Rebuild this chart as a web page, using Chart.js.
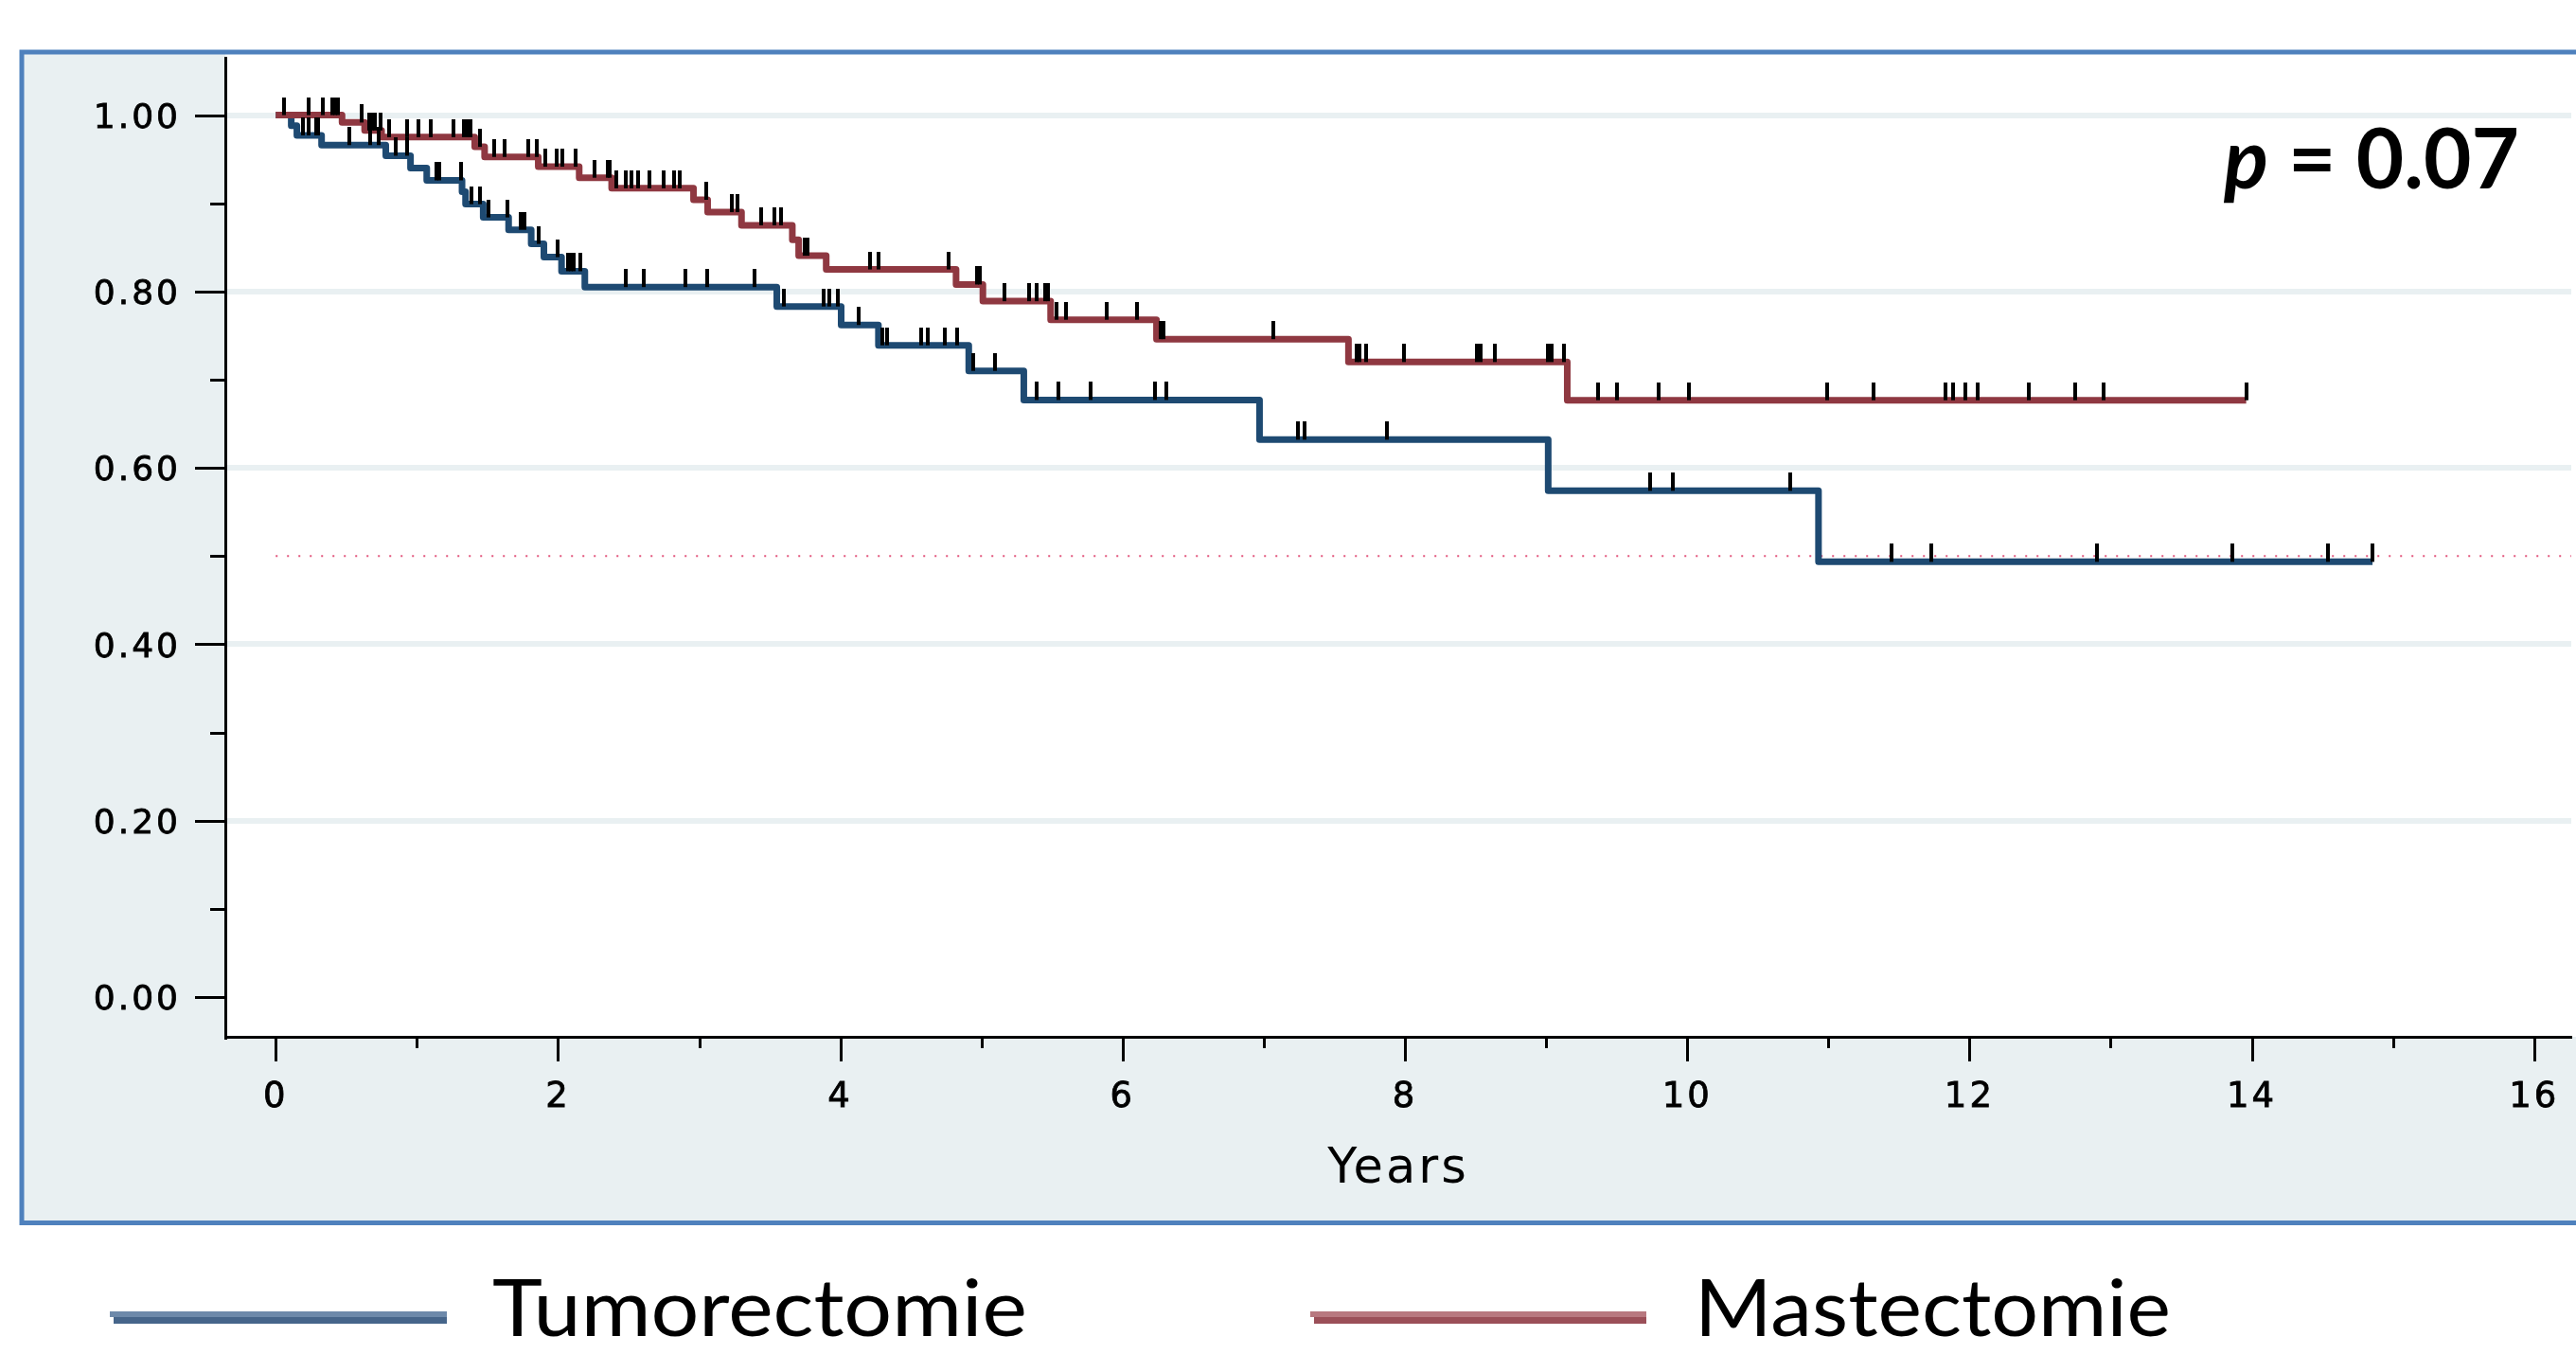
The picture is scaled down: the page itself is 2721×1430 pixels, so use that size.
<!DOCTYPE html>
<html><head><meta charset="utf-8">
<script src="https://cdn.jsdelivr.net/npm/chart.js@4.4.0/dist/chart.umd.min.js"></script>
<style>html,body{margin:0;padding:0;background:#fff;overflow:hidden}</style>
</head><body>
<canvas id="c" width="2721" height="1430"></canvas>
<script>
// ---------------- DATA ----------------
const seriesNames = ['Tumorectomie', 'Mastectomie'];

// Tumorectomie (blue): event times (years) and survival after each step
const tumTimes = [0, 0.11, 0.15, 0.325, 0.78, 0.955, 1.07, 1.32, 1.345, 1.47, 1.65, 1.81, 1.90, 2.025, 2.19, 3.55, 4.006, 4.27, 4.91, 5.30, 6.97, 9.015, 10.93, 14.855];
const tumSurv  = [1.0, 0.988, 0.977, 0.966, 0.954, 0.940, 0.926, 0.913, 0.899, 0.884, 0.870, 0.854, 0.839, 0.823, 0.805, 0.783, 0.762, 0.739, 0.710, 0.677, 0.632, 0.574, 0.4935, 0.4935];
const tumCensor = [0.19, 0.23, 0.285, 0.30, 0.52, 0.67, 0.73, 0.85, 0.93, 1.14, 1.16, 1.31, 1.39, 1.45, 1.51, 1.64, 1.735, 1.76, 1.86, 2.0, 2.07, 2.09, 2.11, 2.16, 2.48, 2.61, 2.90, 3.06, 3.39, 3.60, 3.88, 3.92, 3.98, 4.13, 4.30, 4.33, 4.57, 4.62, 4.74, 4.83, 4.94, 5.095, 5.39, 5.545, 5.77, 6.23, 6.31, 7.24, 7.29, 7.87, 9.735, 9.90, 10.73, 11.45, 11.73, 12.90, 13.86, 14.54, 14.855];

// Mastectomie (red)
const masTimes = [0, 0.47, 0.63, 0.75, 1.41, 1.48, 1.86, 2.15, 2.38, 2.96, 3.06, 3.30, 3.66, 3.705, 3.90, 4.82, 5.01, 5.49, 6.24, 7.60, 9.15, 13.96];
const masSurv  = [1.0, 0.9916, 0.9826, 0.975, 0.964, 0.9526, 0.9415, 0.929, 0.917, 0.904, 0.890, 0.875, 0.8585, 0.8406, 0.825, 0.808, 0.789, 0.768, 0.746, 0.720, 0.6767, 0.6767];
const masCensor = [0.057, 0.23, 0.336, 0.40, 0.42, 0.44, 0.61, 0.66, 0.68, 0.70, 0.74, 0.80, 0.93, 1.01, 1.10, 1.26, 1.33, 1.36, 1.38, 1.45, 1.545, 1.62, 1.79, 1.85, 1.91, 1.99, 2.03, 2.125, 2.26, 2.355, 2.365, 2.415, 2.48, 2.52, 2.57, 2.65, 2.745, 2.82, 2.86, 3.05, 3.23, 3.27, 3.44, 3.53, 3.58, 3.75, 3.765, 4.21, 4.27, 4.77, 4.97, 4.99, 5.16, 5.34, 5.39, 5.45, 5.47, 5.53, 5.60, 5.89, 6.10, 6.27, 6.29, 7.07, 7.66, 7.68, 7.725, 7.99, 8.51, 8.535, 8.64, 9.01, 9.04, 9.13, 9.365, 9.50, 9.80, 10.01, 10.99, 11.32, 11.83, 11.88, 11.97, 12.06, 12.42, 12.75, 12.95, 13.96];

const yTickValues = [0, 0.1, 0.2, 0.3, 0.4, 0.5, 0.6, 0.7, 0.8, 0.9, 1.0];
const yTickLabels = ['0.00', '', '0.20', '', '0.40', '', '0.60', '', '0.80', '', '1.00'];
const yGridValues = [0.2, 0.4, 0.6, 0.8, 1.0];
const xTickValues = [0, 1, 2, 3, 4, 5, 6, 7, 8, 9, 10, 11, 12, 13, 14, 15, 16];
const xTickLabels = ['0', '', '2', '', '4', '', '6', '', '8', '', '10', '', '12', '', '14', '', '16'];
const xTitle = 'Years';
const pLabel = 'p';
const pValueText = ' = 0.07';
const refLineValue = 0.5;

// ---------------- HELPERS ----------------
const colBlue = '#1e4a72';
const colRed = '#8f3841';
const AXFONT = '"DejaVu Sans", Verdana, sans-serif';
const LEGFONT = 'Lato, "Open Sans", sans-serif';

function toPoints(times, surv) { return times.map((t, i) => ({x: t, y: surv[i]})); }
function survAt(times, surv, t) {
  let s = surv[0];
  for (let i = 0; i < times.length; i++) if (times[i] <= t) s = surv[i];
  return s;
}
function censorPoints(times, surv, cens) { return cens.map(t => ({x: t, y: survAt(times, surv, t)})); }
function makeMark() {
  const c = document.createElement('canvas');
  c.width = 4; c.height = 38;
  const g = c.getContext('2d');
  g.fillStyle = '#000';
  g.fillRect(0, 0, 4, 19);
  return c;
}
const mark = makeMark();

const xMin = -0.357, xMax = 16.263;
const yMin = -0.0451, yMax = 1.065;

// ---------------- PLUGINS ----------------
const framePlugin = {
  id: 'frame',
  beforeDraw(chart) {
    const ctx = chart.ctx, a = chart.chartArea;
    ctx.save();
    ctx.fillStyle = '#ffffff';
    ctx.fillRect(0, 0, chart.width, chart.height);
    ctx.fillStyle = '#e9f0f2';
    ctx.fillRect(23, 55, chart.width + 20, 1291.5 - 55);
    ctx.fillStyle = '#ffffff';
    ctx.fillRect(a.left, 57, a.right - a.left + 10, a.bottom - 57);
    ctx.strokeStyle = '#4f81bd';
    ctx.lineWidth = 5;
    ctx.strokeRect(23, 55, chart.width + 20, 1291.5 - 55);
    ctx.restore();
    // the chart's axis text is horizontally stretched in the original
    ctx.letterSpacing = '3px';
  },
  beforeDatasetsDraw(chart) {
    const ctx = chart.ctx, xs = chart.scales.x, ys = chart.scales.y;
    ctx.letterSpacing = '0px';
    const py = ys.getPixelForValue(refLineValue);
    ctx.save();
    ctx.strokeStyle = '#e2557c';
    ctx.lineWidth = 2;
    ctx.setLineDash([2, 10]);
    ctx.beginPath();
    ctx.moveTo(xs.getPixelForValue(0), py);
    ctx.lineTo(chart.chartArea.right, py);
    ctx.stroke();
    ctx.restore();
  },
  afterDraw(chart) {
    const ctx = chart.ctx, xs = chart.scales.x, ys = chart.scales.y, a = chart.chartArea;
    ctx.save();
    ctx.letterSpacing = '0px';
    ctx.strokeStyle = '#000';
    ctx.lineWidth = 3;
    yTickValues.forEach((v, i) => {
      const p = Math.round(ys.getPixelForValue(v)) + 0.5;
      const len = yTickLabels[i] ? 32 : 16;
      ctx.beginPath(); ctx.moveTo(a.left - len, p); ctx.lineTo(a.left, p); ctx.stroke();
    });
    xTickValues.forEach((v, i) => {
      const p = Math.round(xs.getPixelForValue(v)) + 0.5;
      const len = xTickLabels[i] ? 26 : 12;
      ctx.beginPath(); ctx.moveTo(p, a.bottom); ctx.lineTo(p, a.bottom + len); ctx.stroke();
    });
    // p-value text
    ctx.fillStyle = '#000';
    ctx.textBaseline = 'alphabetic';
    ctx.font = 'italic 700 88px ' + LEGFONT;
    const wp = ctx.measureText(pLabel).width;
    ctx.font = '700 88px ' + LEGFONT;
    const wr = ctx.measureText(pValueText).width;
    const sx = 312 / (wp + wr);
    ctx.save();
    ctx.translate(2349, 199);
    ctx.scale(sx, 1);
    ctx.font = 'italic 700 88px ' + LEGFONT;
    ctx.fillText(pLabel, 0, 0);
    ctx.font = '700 88px ' + LEGFONT;
    ctx.fillText(pValueText, wp, 0);
    ctx.restore();
    // legend
    const items = [
      {name: seriesNames[0], x0: 116, x1: 472, tx: 520, tw: 565, light: '#6d89aa', dark: '#46658a'},
      {name: seriesNames[1], x0: 1384, x1: 1739, tx: 1790, tw: 503, light: '#b8787f', dark: '#9b4f58'}
    ];
    items.forEach(it => {
      ctx.fillStyle = it.light;
      ctx.fillRect(it.x0, 1385, it.x1 - it.x0, 6);
      ctx.fillStyle = it.dark;
      ctx.fillRect(it.x0 + 4, 1391, it.x1 - it.x0 - 4, 7);
      ctx.fillStyle = '#000';
      ctx.font = '400 84px ' + LEGFONT;
      const w = ctx.measureText(it.name).width;
      ctx.save();
      ctx.translate(it.tx, 1411);
      ctx.scale(it.tw / w, 1);
      ctx.fillText(it.name, 0, 0);
      ctx.restore();
    });
    ctx.restore();
  }
};

// ---------------- CHART ----------------
new Chart(document.getElementById('c'), {
  data: {
    datasets: [
      {type: 'scatter', label: seriesNames[1] + ' censored', data: censorPoints(masTimes, masSurv, masCensor),
       pointStyle: mark, pointRadius: 2, order: 0},
      {type: 'scatter', label: seriesNames[0] + ' censored', data: censorPoints(tumTimes, tumSurv, tumCensor),
       pointStyle: mark, pointRadius: 2, order: 0},
      {type: 'line', label: seriesNames[1], data: toPoints(masTimes, masSurv), stepped: true,
       borderColor: colRed, borderWidth: 7, pointRadius: 0, fill: false, borderJoinStyle: 'round', order: 1},
      {type: 'line', label: seriesNames[0], data: toPoints(tumTimes, tumSurv), stepped: true,
       borderColor: colBlue, borderWidth: 7, pointRadius: 0, fill: false, borderJoinStyle: 'round', order: 2}
    ]
  },
  options: {
    responsive: false,
    devicePixelRatio: 1,
    animation: false,
    layout: {padding: {left: 0, right: 0, top: 61, bottom: 135}},
    plugins: {legend: {display: false}, tooltip: {enabled: false}},
    scales: {
      x: {
        type: 'linear', min: xMin, max: xMax,
        afterBuildTicks: s => { s.ticks = xTickValues.map(v => ({value: v})); },
        afterFit: s => { s.height = 200; s.paddingLeft = 0; s.paddingRight = 0; s.paddingTop = 0; s.paddingBottom = 0; },
        grid: {display: false, drawTicks: false},
        border: {display: true, color: '#000', width: 3},
        ticks: {callback: (v, i) => xTickLabels[i], autoSkip: false, maxRotation: 0, padding: 42,
                color: '#000', textStrokeColor: '#000', textStrokeWidth: 0.8,
                font: {family: AXFONT, size: 37}},
        title: {display: true, text: xTitle, color: '#000', font: {family: AXFONT, size: 51},
                padding: {top: 0, bottom: 29}}
      },
      y: {
        type: 'linear', min: yMin, max: yMax,
        afterBuildTicks: s => { s.ticks = yTickValues.map(v => ({value: v})); },
        afterFit: s => { s.width = 238; s.paddingLeft = 0; s.paddingRight = 0; s.paddingTop = 0; s.paddingBottom = 0; },
        grid: {drawTicks: false, lineWidth: 6,
               color: c => (c.tick && yGridValues.some(g => Math.abs(g - c.tick.value) < 1e-9)) ? '#e9f0f2' : 'rgba(0,0,0,0)'},
        border: {display: true, color: '#000', width: 3},
        ticks: {callback: (v, i) => yTickLabels[i], autoSkip: false, padding: 47, labelOffset: 4,
                color: '#000', textStrokeColor: '#000', textStrokeWidth: 0.8,
                font: {family: AXFONT, size: 36}}
      }
    }
  },
  plugins: [framePlugin]
});
</script>
</body></html>
